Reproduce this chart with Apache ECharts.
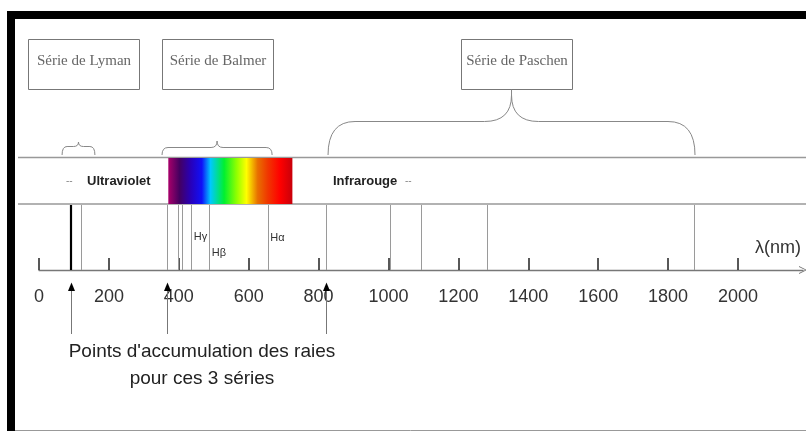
<!DOCTYPE html>
<html><head><meta charset="utf-8">
<script src="https://cdn.jsdelivr.net/npm/echarts/dist/echarts.min.js"></script>
<style>html,body{margin:0;padding:0;background:#fff;}#c{width:806px;height:431px;}</style>
</head><body><div id="c"></div>
<script>
// ---- data ----
const tickInterval = 200;
const axisMin = 0;
const axisMax = 2186;
const lymanLines = [91, 121.6];
const balmerLines = [365, 397, 410, 434, 486, 656];
const paschenLines = [820, 1005, 1094, 1282, 1875];
const accumulationPoints = [91, 365, 820];
const visibleRange = [370, 725];
const lineLabelNames = ['Hγ', 'Hβ', 'Hα'];
const lineLabelNm = [434, 486, 656];
const seriesNames = ['Série de Lyman', 'Série de Balmer', 'Série de Paschen'];
const braceRanges = [[66, 160], [352, 667], [827, 1877]];
const bandLabels = ['Ultraviolet', 'Infrarouge'];
const axisName = 'λ(nm)';
const footnote = ["Points d'accumulation des raies", 'pour ces 3 séries'];

// ---- chart ----
const chart = echarts.init(document.getElementById('c'), null, {renderer: 'canvas'});
const GRID_LEFT = 39, GRID_WIDTH = 764;

function vlineSeries(name, values, thickFirst) {
  return {
    type: 'custom', name: name, xAxisIndex: 0, yAxisIndex: 0,
    data: values.map(v => [v]),
    encode: {x: 0},
    renderItem: function (params, api) {
      const x = api.value(0);
      const top = api.coord([x, 1]);
      const bot = api.coord([x, 0]);
      const thick = thickFirst && params.dataIndex === 0;
      const xx = thick ? Math.round(top[0]) : Math.round(top[0]) + 0.5;
      return {
        type: 'line',
        shape: {x1: xx, y1: top[1] + 1, x2: xx, y2: bot[1]},
        style: {stroke: thick ? '#000' : '#9a9a9a', lineWidth: thick ? 2.2 : 1}
      };
    }
  };
}

const labelDrop = {'Hγ': 33, 'Hβ': 49, 'Hα': 34};
const labelDx = {'Hγ': 3, 'Hβ': 3, 'Hα': 2};

chart.setOption({
  animation: false,
  backgroundColor: '#fff',
  grid: [
    {left: GRID_LEFT, top: 204, width: GRID_WIDTH, height: 66, containLabel: false},
    {left: GRID_LEFT, top: 157, width: GRID_WIDTH, height: 47, containLabel: false}
  ],
  xAxis: [
    {
      type: 'value', gridIndex: 0, min: axisMin, max: axisMax, interval: tickInterval,
      splitLine: {show: false},
      axisLine: {
        show: true, lineStyle: {color: '#777', width: 1.3},
        symbol: ['none', 'path://M5,0 L10,10 L8.8,10 L5,2.2 L1.2,10 L0,10 Z'],
        symbolSize: [11, 8], symbolOffset: [0, 0]
      },
      axisTick: {show: true, inside: true, length: 12, lineStyle: {color: '#222', width: 1.5}},
      axisLabel: {
        show: true, margin: 18, color: '#333', fontSize: 18,
        fontFamily: 'Liberation Sans, Arial, sans-serif',
        showMaxLabel: false,
        formatter: v => (v <= 2000 ? String(v) : '')
      }
    },
    {type: 'value', gridIndex: 1, min: axisMin, max: axisMax, show: false}
  ],
  yAxis: [
    {type: 'value', gridIndex: 0, min: 0, max: 1, show: false},
    {type: 'value', gridIndex: 1, min: 0, max: 1, show: false}
  ],
  series: [
    {
      type: 'custom', name: 'Visible', xAxisIndex: 1, yAxisIndex: 1,
      data: [visibleRange],
      encode: {x: [0, 1]},
      renderItem: function (params, api) {
        const a = api.coord([api.value(0), 1]);
        const b = api.coord([api.value(1), 0]);
        return {
          type: 'rect',
          shape: {x: a[0], y: a[1] + 1, width: b[0] - a[0], height: b[1] - a[1] - 1},
          style: {
            fill: {
              type: 'linear', x: 0, y: 0, x2: 1, y2: 0,
              colorStops: [
                {offset: 0.00, color: '#a8006a'},
                {offset: 0.09, color: '#440060'},
                {offset: 0.18, color: '#2800b8'},
                {offset: 0.27, color: '#1010f8'},
                {offset: 0.34, color: '#00c8ff'},
                {offset: 0.45, color: '#00f030'},
                {offset: 0.55, color: '#90ff00'},
                {offset: 0.63, color: '#ffff00'},
                {offset: 0.72, color: '#e87000'},
                {offset: 0.80, color: '#f03800'},
                {offset: 0.90, color: '#ff0000'},
                {offset: 1.00, color: '#c8000a'}
              ]
            }
          }
        };
      }
    },
    vlineSeries('Lyman', lymanLines, true),
    vlineSeries('Balmer', balmerLines, false),
    vlineSeries('Paschen', paschenLines, false),
    {
      type: 'custom', name: 'labels', xAxisIndex: 0, yAxisIndex: 0,
      data: lineLabelNm.map((v, i) => [v, i]),
      encode: {x: 0},
      renderItem: function (params, api) {
        const name = lineLabelNames[api.value(1)];
        const p = api.coord([api.value(0), 1]);
        return {
          type: 'text',
          style: {
            text: name, x: p[0] + labelDx[name], y: p[1] + labelDrop[name],
            fill: '#333', font: '11px "Liberation Sans", Arial, sans-serif',
            verticalAlign: 'middle', align: 'left'
          }
        };
      }
    },
    {
      type: 'custom', name: 'accumulation', xAxisIndex: 0, yAxisIndex: 0,
      clip: false,
      data: accumulationPoints.map(v => [v]),
      encode: {x: 0},
      renderItem: function (params, api) {
        const p = api.coord([api.value(0), 0]);
        const xx = Math.round(p[0]) + 0.5;
        const y0 = p[1];
        return {
          type: 'group',
          children: [
            {type: 'line', shape: {x1: xx, y1: y0 + 19, x2: xx, y2: y0 + 64},
              style: {stroke: '#777', lineWidth: 1}},
            {type: 'polygon', shape: {points: [[xx, y0 + 12.5], [xx - 3.5, y0 + 21], [xx + 3.5, y0 + 21]]},
              style: {fill: '#000'}}
          ]
        };
      }
    }
  ]
});

// ---- annotations ----
function px(v) { return chart.convertToPixel({xAxisIndex: 0}, v); }
const braceStyle = {fill: 'none', stroke: '#888', lineWidth: 1};
function braceElements(x1, x2, yb, ym, yt, r) {
  const xc = (x1 + x2) / 2;
  return [
    {type: 'bezierCurve', shape: {x1: x1, y1: yb, cpx1: x1, cpy1: ym, x2: x1 + r, y2: ym}, style: braceStyle},
    {type: 'line', shape: {x1: x1 + r, y1: ym, x2: xc - r, y2: ym}, style: braceStyle},
    {type: 'bezierCurve', shape: {x1: xc - r, y1: ym, cpx1: xc, cpy1: ym, x2: xc, y2: yt}, style: braceStyle},
    {type: 'bezierCurve', shape: {x1: xc, y1: yt, cpx1: xc, cpy1: ym, x2: xc + r, y2: ym}, style: braceStyle},
    {type: 'line', shape: {x1: xc + r, y1: ym, x2: x2 - r, y2: ym}, style: braceStyle},
    {type: 'bezierCurve', shape: {x1: x2 - r, y1: ym, cpx1: x2, cpy1: ym, x2: x2, y2: yb}, style: braceStyle}
  ];
}
const braceGeom = [
  {yb: 155, ym: 146.5, yt: 142, r: 5},
  {yb: 155, ym: 147.5, yt: 141, r: 6},
  {yb: 155, ym: 121.5, yt: 95, r: 27}
];
const boxes = [
  {x: 28.5, y: 39.5, w: 111, h: 50},
  {x: 162.5, y: 39.5, w: 111, h: 50},
  {x: 461.5, y: 39.5, w: 111, h: 50}
];
const elements = [];
elements.push({type: 'rect', shape: {x: 7, y: 11, width: 799, height: 8}, style: {fill: '#000'}});
elements.push({type: 'rect', shape: {x: 7, y: 11, width: 8, height: 420}, style: {fill: '#000'}});
elements.push({type: 'line', shape: {x1: 15, y1: 430.5, x2: 806, y2: 430.5}, style: {stroke: '#999', lineWidth: 1}});
elements.push({type: 'line', shape: {x1: 18, y1: 157.5, x2: 806, y2: 157.5}, style: {stroke: '#999', lineWidth: 1.4}});
elements.push({type: 'line', shape: {x1: 18, y1: 204, x2: 806, y2: 204}, style: {stroke: '#999', lineWidth: 1.4}});
elements.push({type: 'text', style: {text: '--', x: 66, y: 181, fill: '#888', font: '10px "Liberation Sans", Arial', verticalAlign: 'middle'}});
elements.push({type: 'text', style: {text: bandLabels[0], x: 87, y: 181, fill: '#222', font: 'bold 13px "Liberation Sans", Arial', verticalAlign: 'middle'}});
elements.push({type: 'text', style: {text: bandLabels[1], x: 333, y: 181, fill: '#222', font: 'bold 13px "Liberation Sans", Arial', verticalAlign: 'middle'}});
elements.push({type: 'text', style: {text: '--', x: 405, y: 181, fill: '#888', font: '10px "Liberation Sans", Arial', verticalAlign: 'middle'}});
boxes.forEach((b, i) => {
  elements.push({type: 'rect', shape: {x: b.x, y: b.y, width: b.w, height: b.h}, style: {fill: 'none', stroke: '#777', lineWidth: 1}});
  elements.push({type: 'text', style: {text: seriesNames[i], x: b.x + b.w / 2, y: 61, fill: '#666',
    font: '15px "Liberation Serif", "Times New Roman", serif', align: 'center', verticalAlign: 'middle'}});
});
braceRanges.forEach((r, i) => {
  const g = braceGeom[i];
  const x1 = px(r[0]), x2 = px(r[1]);
  braceElements(x1, x2, g.yb, g.ym, g.yt, g.r).forEach(e => elements.push(e));
  if (i === 2) {
    const xc = (x1 + x2) / 2;
    elements.push({type: 'line', shape: {x1: xc, y1: g.yt, x2: xc, y2: 89.5}, style: braceStyle});
  }
});
elements.push({type: 'text', style: {text: axisName, x: 755, y: 248, fill: '#333', font: '18px "Liberation Sans", Arial', verticalAlign: 'middle'}});
elements.push({type: 'text', style: {text: footnote[0], x: 202, y: 352, fill: '#222', font: '19px "Liberation Sans", Arial', align: 'center', verticalAlign: 'middle'}});
elements.push({type: 'text', style: {text: footnote[1], x: 202, y: 379, fill: '#222', font: '19px "Liberation Sans", Arial', align: 'center', verticalAlign: 'middle'}});

chart.setOption({graphic: {elements: elements}});
</script>
</body></html>
